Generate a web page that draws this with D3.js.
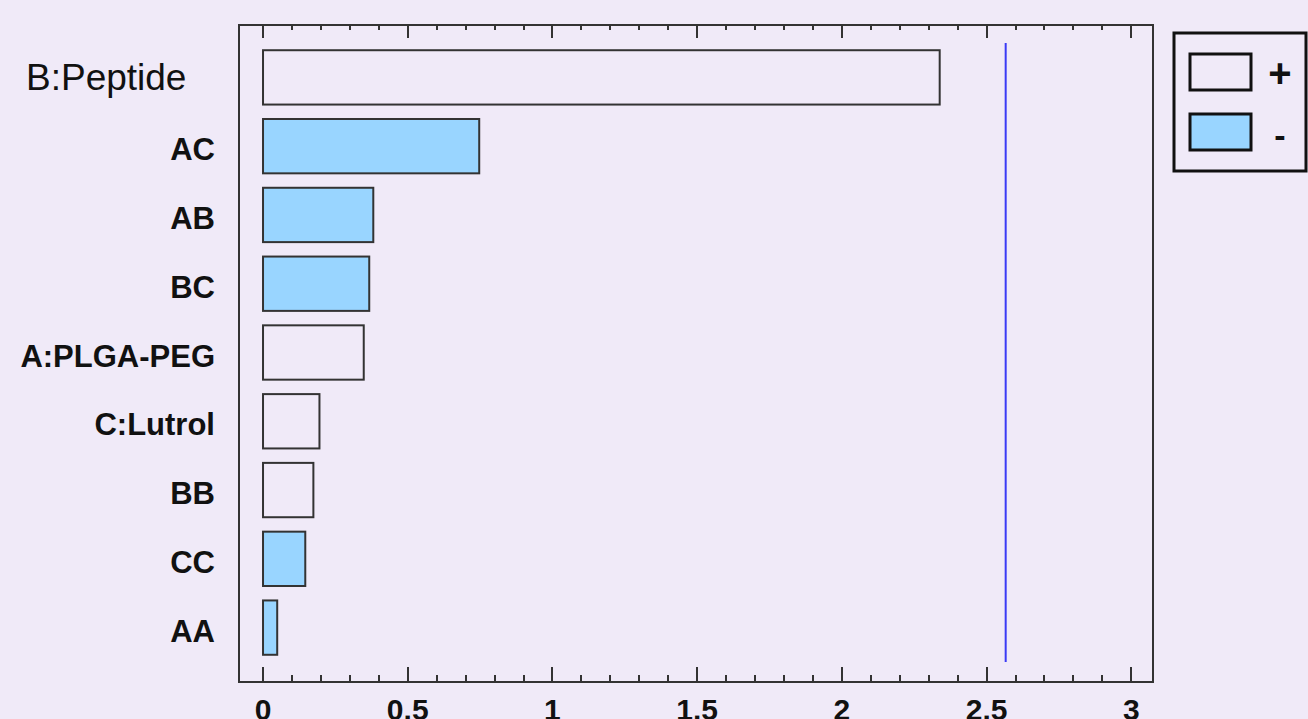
<!DOCTYPE html>
<html>
<head>
<meta charset="utf-8">
<script src="https://cdn.jsdelivr.net/npm/d3@7"></script>
<style>
  html, body { margin: 0; padding: 0; background: #f0eaf8; }
  svg { display: block; }
  text { font-family: "Liberation Sans", Arial, sans-serif; fill: #111; }
</style>
</head>
<body>
<div id="chart"></div>
<script>
// effects, largest first (standardized effect)
let terms = ["B:Peptide", "AC", "AB", "BC", "A:PLGA-PEG", "C:Lutrol", "BB", "CC", "AA"];
let effects = [2.338, 0.747, 0.381, 0.367, 0.348, 0.195, 0.174, 0.146, 0.049];
let signs = ["+", "-", "-", "-", "+", "+", "+", "-", "-"];
let critical = 2.566;
let majorTicks = [0, 0.5, 1, 1.5, 2, 2.5, 3];
let legendKeys = ["+", "-"];

let w = 1308, h = 719;
let frame = {left: 239, top: 25, right: 1153, bottom: 682};

let svg = d3.select("#chart")
    .append("svg")
    .attr("width", w)
    .attr("height", h);

let x = d3.scaleLinear()
    .domain([-0.083, 3.075])
    .range([frame.left, frame.right]);

let y = d3.scaleBand()
    .domain(terms)
    .range([43, 662])
    .paddingInner(0.21)
    .paddingOuter(0.105);

let color = d3.scaleOrdinal()
    .domain(legendKeys)
    .range(["none", "#99d5ff"]);

// frame
svg.append("rect")
    .attr("x", frame.left)
    .attr("y", frame.top)
    .attr("width", frame.right - frame.left)
    .attr("height", frame.bottom - frame.top)
    .style("fill", "none")
    .style("stroke", "#333")
    .style("stroke-width", 2);

// ticks top and bottom, pointing inwards
let minor = d3.range(0, 31).map((i) => i / 10);

let tickG = svg.append("g").style("stroke", "#333").style("stroke-width", 2);

minor.forEach((v) => {
    let major = Math.abs(v * 2 - Math.round(v * 2)) < 1e-6;
    tickG.append("line")
        .attr("x1", Math.round(x(v)))
        .attr("x2", Math.round(x(v)))
        .attr("y1", frame.bottom)
        .attr("y2", frame.bottom - (major ? 15 : 7));
    tickG.append("line")
        .attr("x1", Math.round(x(v)))
        .attr("x2", Math.round(x(v)))
        .attr("y1", frame.top)
        .attr("y2", frame.top + (major ? 13 : 5));
});

svg.selectAll(".tlabel")
    .data(majorTicks)
    .enter()
    .append("text")
    .attr("class", "tlabel")
    .attr("x", (d) => x(d))
    .attr("y", 720)
    .attr("text-anchor", "middle")
    .style("font-size", "30px")
    .style("font-weight", "bold")
    .text((d) => d);

// bars
svg.selectAll(".bar")
    .data(terms)
    .enter()
    .append("rect")
    .attr("class", "bar")
    .attr("x", x(0))
    .attr("y", (d) => y(d))
    .attr("width", (d, i) => x(effects[i]) - x(0))
    .attr("height", y.bandwidth())
    .style("fill", (d, i) => color(signs[i]))
    .style("stroke", "#333")
    .style("stroke-width", 2);

// critical line
svg.append("line")
    .attr("x1", x(critical))
    .attr("x2", x(critical))
    .attr("y1", y.range()[0])
    .attr("y2", y.range()[1])
    .style("stroke", "#3a3af5")
    .style("stroke-width", 2);

// term labels
svg.selectAll(".label")
    .data(terms)
    .enter()
    .append("text")
    .attr("class", "label")
    .attr("x", (d, i) => i === 0 ? 26 : 215)
    .attr("y", (d) => y(d) + y.bandwidth() / 2 + (d === "B:Peptide" ? 13 : 14))
    .attr("text-anchor", (d, i) => i === 0 ? "start" : "end")
    .style("font-size", (d, i) => i === 0 ? "37px" : "31px")
    .style("font-weight", (d, i) => i === 0 ? "normal" : "bold")
    .text((d) => d);

// legend
let legend = svg.append("g");

legend.append("rect")
    .attr("x", 1174)
    .attr("y", 33)
    .attr("width", 132)
    .attr("height", 138)
    .style("fill", "none")
    .style("stroke", "#111")
    .style("stroke-width", 3);

legendKeys.forEach((k, i) => {
    legend.append("rect")
        .attr("x", 1190)
        .attr("y", 54 + i * 60)
        .attr("width", 61)
        .attr("height", 36)
        .style("fill", color(k))
        .style("stroke", "#111")
        .style("stroke-width", 3);
    legend.append("text")
        .attr("x", 1280)
        .attr("y", 87 + i * 60)
        .attr("text-anchor", "middle")
        .style("font-size", i === 0 ? "40px" : "34px")
        .style("font-weight", "bold")
        .text(k);
});
</script>
</body>
</html>
